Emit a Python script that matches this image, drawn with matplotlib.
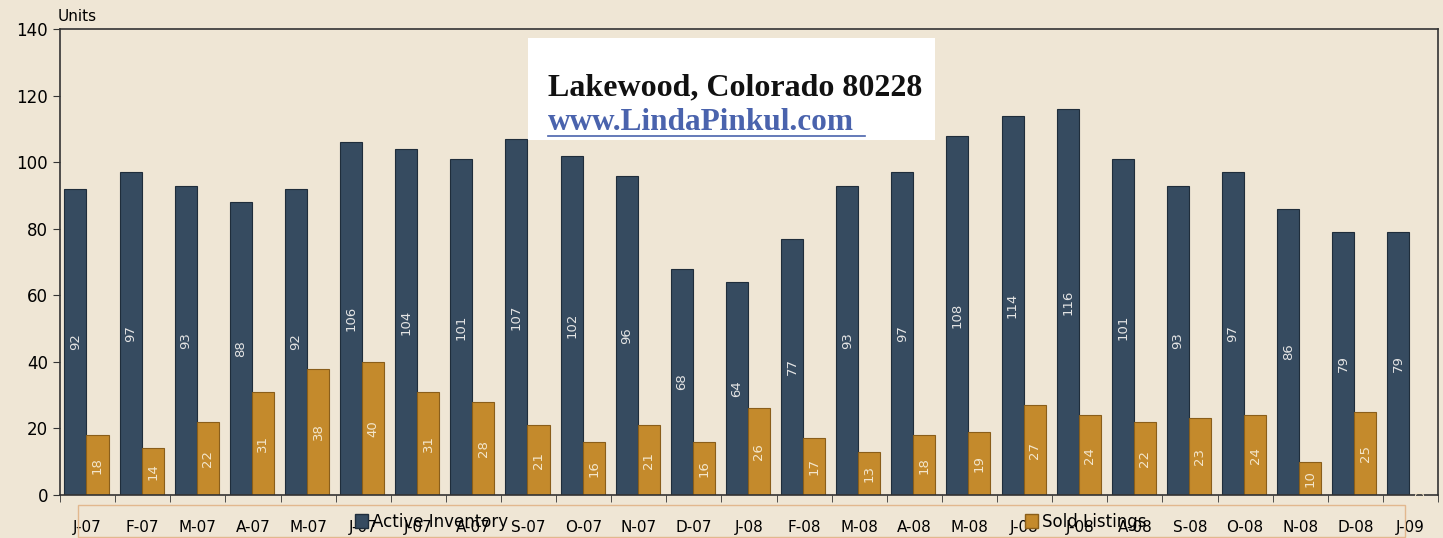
import numpy as np
import matplotlib.pyplot as plt
from matplotlib.patches import Rectangle, Patch

months = ['J-07', 'F-07', 'M-07', 'A-07', 'M-07', 'J-07', 'J-07', 'A-07', 'S-07', 'O-07', 'N-07', 'D-07',
          'J-08', 'F-08', 'M-08', 'A-08', 'M-08', 'J-08', 'J-08', 'A-08', 'S-08', 'O-08', 'N-08', 'D-08', 'J-09']
active = [92, 97, 93, 88, 92, 106, 104, 101, 107, 102, 96, 68,
          64, 77, 93, 97, 108, 114, 116, 101, 93, 97, 86, 79, 79]
sold = [18, 14, 22, 31, 38, 40, 31, 28, 21, 16, 21, 16,
        26, 17, 13, 18, 19, 27, 24, 22, 23, 24, 10, 25, 0]

bg = '#efe6d5'
blue = '#364b60'
gold = '#c48a2c'

fig = plt.figure(figsize=(14.43, 5.38), dpi=100, facecolor=bg)
ax = fig.add_axes([0.0416, 0.0799, 0.955, 0.866], facecolor=bg)

x = np.arange(len(months))
w = 0.40
b1 = ax.bar(x - w / 2 - 0.02, active, w, color=blue, edgecolor='#1f2d3b', linewidth=0.8)
b2 = ax.bar(x + w / 2 - 0.02, sold, w, color=gold, edgecolor='#8a5e1a', linewidth=0.8)
ax.bar_label(b1, label_type='center', rotation=90, color='#e4e4e4', fontsize=9.5)
ax.bar_label(b2, label_type='center', rotation=90, color='#f3e6cc', fontsize=9.5)

ax.set_xlim(-0.5, len(months) - 0.5)
ax.set_ylim(0, 140)
ax.set_yticks(range(0, 141, 20))
ax.tick_params(axis='y', labelsize=12, length=5, color='#333333')
ax.set_xticks(x)
ax.set_xticklabels(months, fontsize=11)
ax.tick_params(axis='x', length=0, pad=18)
ax.set_xticks(np.arange(-0.5, len(months), 1), minor=True)
ax.tick_params(axis='x', which='minor', length=5, color='#333333')
for s in ax.spines.values():
    s.set_color('#333333')
    s.set_linewidth(1.2)

fig.text(0.040, 0.970, 'Units', fontsize=11, va='center', ha='left')

# title box
fig.patches.append(Rectangle((528 / 1443, 1 - 140 / 538), 407 / 1443, 102 / 538,
                             transform=fig.transFigure, facecolor='white', edgecolor='none', zorder=5))
fig.text(548 / 1443, 1 - 88 / 538, 'Lakewood, Colorado 80228', family='Liberation Serif',
         fontweight='bold', fontsize=23, color='#111111', va='center', ha='left', zorder=6)
fig.text(548 / 1443, 1 - 123 / 538, 'www.LindaPinkul.com', family='Liberation Serif',
         fontweight='bold', fontsize=22.5, color='#4a63ad', va='center', ha='left', zorder=6)
fig.add_artist(plt.Line2D([548 / 1443, 865 / 1443], [1 - 136 / 538] * 2, color='#4a63ad', lw=1.2, zorder=6))

# legend frame and entries
fig.patches.append(Rectangle((78 / 1443, 1 / 538), 1327 / 1443, 32 / 538,
                             transform=fig.transFigure, facecolor='none', edgecolor='#e2b88e', lw=1))
leg1 = fig.legend(handles=[Patch(facecolor=blue, edgecolor='#1f2d3b')], labels=['Active Inventory'],
                  loc='center left', bbox_to_anchor=(340 / 1443, 1 - 522 / 538), frameon=False,
                  fontsize=12, handlelength=0.8, handleheight=0.9, handletextpad=0.2)
leg2 = fig.legend(handles=[Patch(facecolor=gold, edgecolor='#8a5e1a')], labels=['Sold Listings'],
                  loc='center left', bbox_to_anchor=(1010 / 1443, 1 - 522 / 538), frameon=False,
                  fontsize=12, handlelength=0.8, handleheight=0.9, handletextpad=0.2)

fig.savefig('out.png', dpi=100, facecolor=bg)
